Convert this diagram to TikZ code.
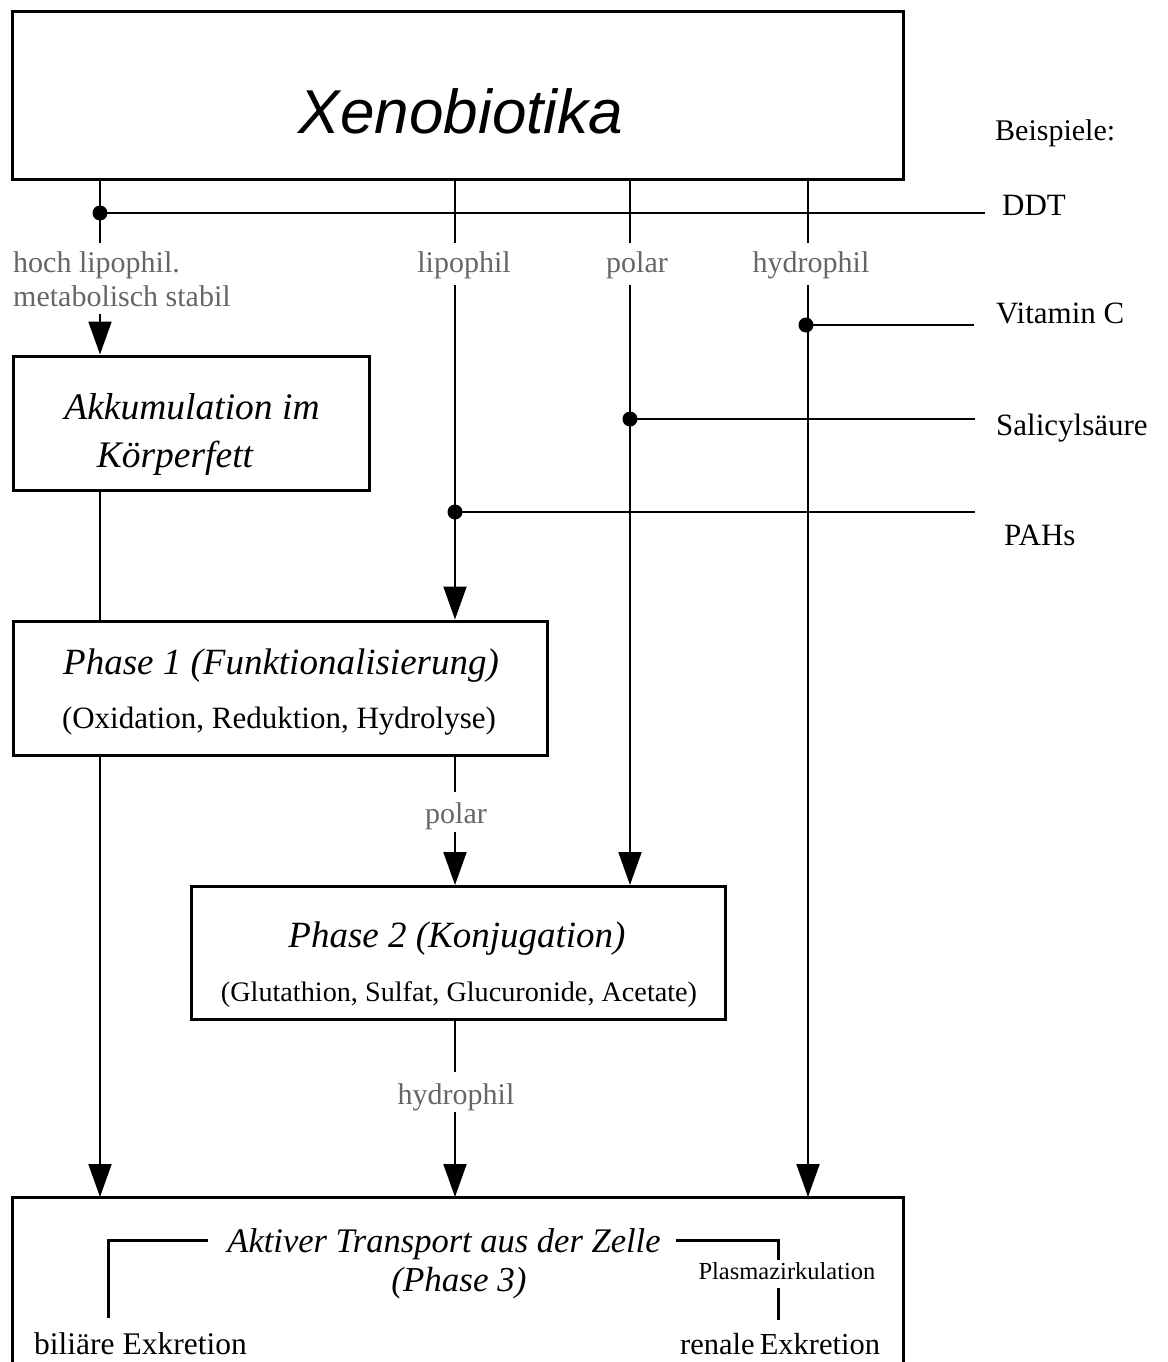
\documentclass[tikz,border=0pt]{standalone}
\usepackage{fontspec}
\setmainfont{Liberation Serif}
\newfontfamily\xsans{Liberation Sans}
\usetikzlibrary{arrows.meta}
\tikzset{
  box/.style={draw, line width=3pt, inner sep=0pt},
  ln/.style={line width=2pt},
  arr/.style={line width=2pt, -{Triangle[width=23pt,length=33pt]}},
  dotn/.style={circle, fill=black, inner sep=0pt, minimum size=15pt},
  glab/.style={text=black!60, font=\fontsize{30}{32}\selectfont, inner sep=0pt},
  rlab/.style={font=\fontsize{31}{34}\selectfont, inner sep=0pt, anchor=base west},
  head/.style={font=\fontsize{37}{40}\selectfont\itshape, inner sep=0pt, anchor=base},
  sub/.style={font=\fontsize{31}{34}\selectfont, inner sep=0pt, anchor=base},
  brk/.style={line width=3pt},
}
\begin{document}
\begin{tikzpicture}[x=1pt,y=-1pt]
\useasboundingbox (0,0) rectangle (1167,1362);
% boxes
\node[box, minimum width=891pt, minimum height=167pt] (xeno) at (457.5,95.5) {};
\node[box, minimum width=356pt, minimum height=134pt] (akk) at (191,423) {};
\node[box, minimum width=534pt, minimum height=134pt] (ph1) at (280,688) {};
\node[box, minimum width=534pt, minimum height=133pt] (ph2) at (458,953) {};
\coordinate (p3bl) at (12,1370);
\coordinate (p3tl) at (12,1197);
\coordinate (p3tr) at (903,1197);
\coordinate (p3br) at (903,1370);
\draw[line width=3pt] (p3bl) -- (p3tl) -- (p3tr) -- (p3br);

% texts
\node[inner sep=0pt, anchor=base, font=\xsans\itshape\fontsize{62}{66}\selectfont] (xenot) at (461,133) {Xenobiotika};
\node[rlab, font=\fontsize{30}{33}\selectfont] (beisp) at (995,140) {Beispiele:};
\node[rlab] (ddt) at (1002,215) {DDT};
\node[rlab] (vitc) at (996,323) {Vitamin C};
\node[rlab] (sal) at (996,435) {Salicylsäure};
\node[rlab] (pahs) at (1004,545) {PAHs};

\node[glab, anchor=base west] (hoch) at (13,272) {hoch lipophil.};
\node[glab, anchor=base west] (meta) at (13,306) {metabolisch stabil};
\node[glab, anchor=base] (lipo) at (464,272) {lipophil};
\node[glab, anchor=base] (pol1) at (637,272) {polar};
\node[glab, anchor=base] (hyd1) at (811,272) {hydrophil};
\node[glab, anchor=base] (pol2) at (456,823) {polar};
\node[glab, anchor=base] (hyd2) at (456,1104) {hydrophil};

\node[head, font=\fontsize{37.5}{40}\selectfont\itshape] (akk1) at (192,419) {Akkumulation im};
\node[head, font=\fontsize{37.5}{40}\selectfont\itshape] (akk2) at (175,467) {Körperfett};
\node[head] (ph1a) at (281,674) {Phase 1 (Funktionalisierung)};
\node[sub] (ph1b) at (279,728) {(Oxidation, Reduktion, Hydrolyse)};
\node[head] (ph2a) at (457,947) {Phase 2 (Konjugation)};
\node[sub, font=\fontsize{28.2}{31}\selectfont] (ph2b) at (459,1001) {(Glutathion, Sulfat, Glucuronide, Acetate)};

\node[head, font=\fontsize{34.5}{38}\selectfont\itshape] (akt) at (444,1252) {Aktiver Transport aus der Zelle};
\node[head, font=\fontsize{35}{38}\selectfont\itshape] (ph3) at (459,1291) {(Phase 3)};
\node[inner sep=0pt, anchor=base, font=\fontsize{24.5}{27}\selectfont] (plasma) at (787,1279) {Plasmazirkulation};
\node[inner sep=0pt, anchor=base west, font=\fontsize{31.5}{34}\selectfont] (bil) at (34,1354) {biliäre Exkretion};
\node[inner sep=0pt, anchor=base west, font=\fontsize{30.5}{33}\selectfont] (ren) at (680,1354) {renale\,Exkretion};

% column coordinates
\coordinate (cA) at (100,0);
\coordinate (cB) at (455,0);
\coordinate (cC) at (630,0);
\coordinate (cD) at (808,0);
\coordinate (gA1) at (100,243);
\coordinate (gA2) at (100,314);
\coordinate (gB1) at (455,243);
\coordinate (gB2) at (455,285);
\coordinate (gC1) at (630,243);
\coordinate (gC2) at (630,285);
\coordinate (gD1) at (808,243);
\coordinate (gD2) at (808,285);
\coordinate (gP1) at (455,792);
\coordinate (gP2) at (455,832);
\coordinate (gH1) at (455,1072);
\coordinate (gH2) at (455,1112);

% dots
\node[dotn] (dA) at (100,213) {};
\node[dotn] (dD) at (806,325) {};
\node[dotn] (dC) at (630,419) {};
\node[dotn] (dB) at (455,512) {};
\coordinate (eddt) at (985,213);
\coordinate (evit) at (974,325);
\coordinate (esal) at (975,419);
\coordinate (epah) at (975,512);

% column A
\draw[ln] (xeno.south -| cA) -- (gA1);
\draw[arr] (gA2) -- (akk.north -| cA);
\draw[ln] (akk.south -| cA) -- (ph1.north -| cA);
\draw[arr] (ph1.south -| cA) -- (p3tl -| cA);
% column B
\draw[ln] (xeno.south -| cB) -- (gB1);
\draw[arr] (gB2) -- (ph1.north -| cB);
\draw[ln] (ph1.south -| cB) -- (gP1);
\draw[arr] (gP2) -- (ph2.north -| cB);
\draw[ln] (ph2.south -| cB) -- (gH1);
\draw[arr] (gH2) -- (p3tl -| cB);
% column C
\draw[ln] (xeno.south -| cC) -- (gC1);
\draw[arr] (gC2) -- (ph2.north -| cC);
% column D
\draw[ln] (xeno.south -| cD) -- (gD1);
\draw[arr] (gD2) -- (p3tl -| cD);

% example lines
\draw[ln] (dA.center) -- (eddt);
\draw[ln] (dD.center) -- (evit);
\draw[ln] (dC.center) -- (esal);
\draw[ln] (dB.center) -- (epah);

% phase 3 brackets
\coordinate (bl1) at (108,1318);
\coordinate (bl2) at (108,1240);
\coordinate (bl3) at (208,1240);
\coordinate (br1) at (676,1240);
\coordinate (br2) at (778,1240);
\coordinate (br3) at (778,1260);
\coordinate (br4) at (778,1288);
\coordinate (br5) at (778,1320);
\draw[brk] (bl1) -- (bl2) -- (bl3);
\draw[brk] (br1) -- (br2) -- (br3);
\draw[brk] (br4) -- (br5);
\end{tikzpicture}
\end{document}
